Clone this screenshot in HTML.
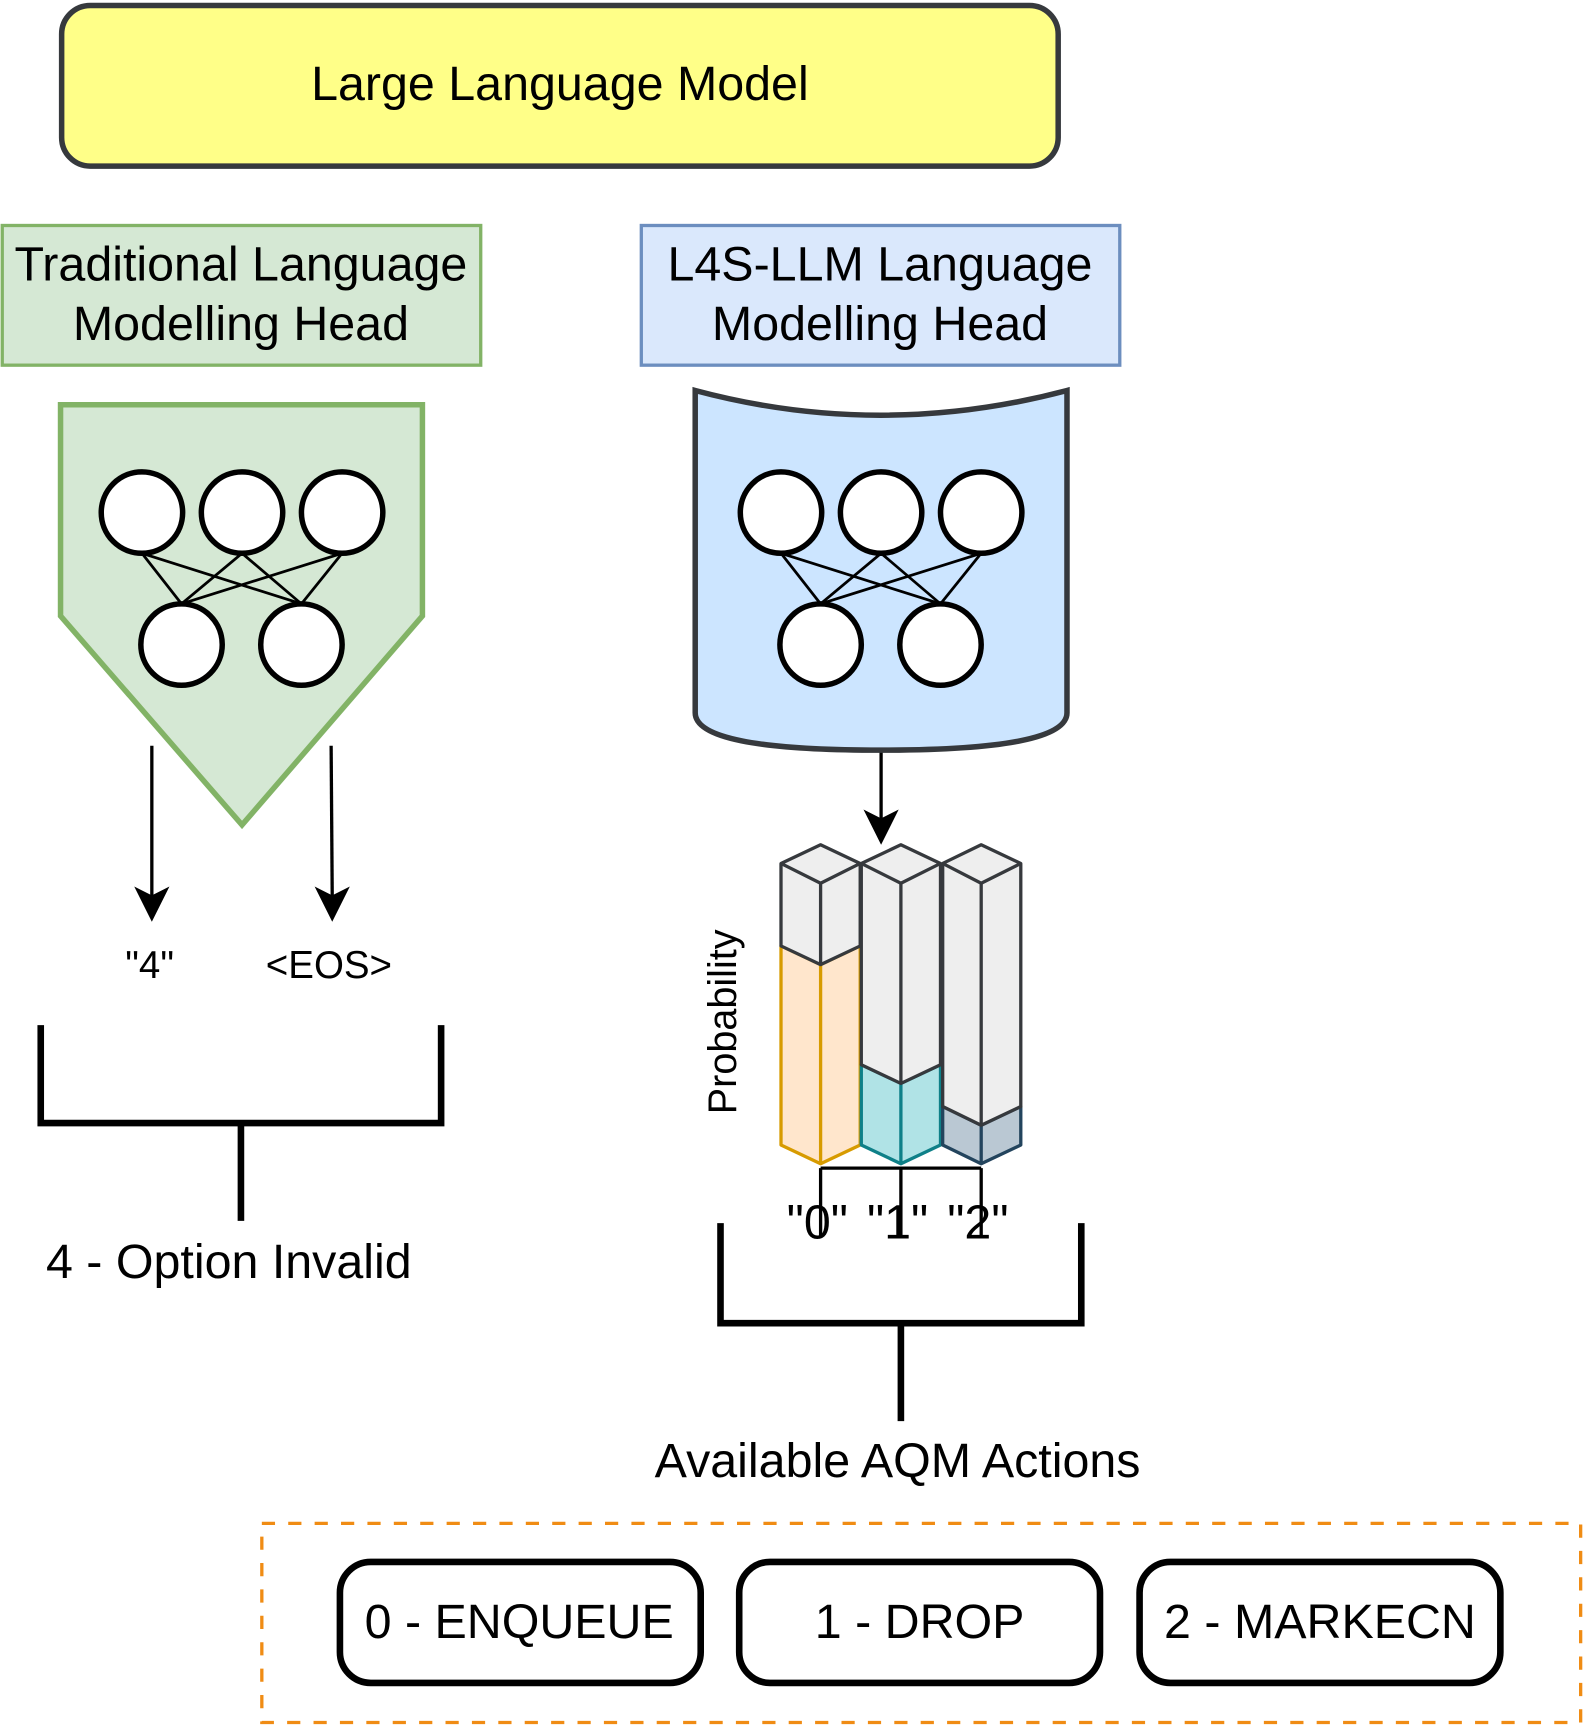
<!DOCTYPE html>
<html><head><style>html,body{margin:0;padding:0;background:#fff}svg{display:block}</style></head>
<body>
<svg width="1584" height="1728" viewBox="0 0 1440 1571" xmlns="http://www.w3.org/2000/svg" font-family="Liberation Sans, Arial, sans-serif">
<rect x="56" y="5" width="906" height="146" rx="26" fill="#ffff88" stroke="#36393d" stroke-width="5"/>
<text x="509" y="91" font-size="44" text-anchor="middle">Large Language Model</text>

<rect x="2" y="205" width="435" height="127" fill="#d5e8d4" stroke="#82b366" stroke-width="3"/>
<text x="219" y="255" font-size="44" text-anchor="middle">Traditional Language</text>
<text x="219" y="309" font-size="44" text-anchor="middle">Modelling Head</text>
<rect x="583" y="205" width="435" height="127" fill="#dae8fc" stroke="#6c8ebf" stroke-width="3"/>
<text x="800" y="255" font-size="44" text-anchor="middle">L4S-LLM Language</text>
<text x="800" y="309" font-size="44" text-anchor="middle">Modelling Head</text>

<polygon points="55,368 384,368 384,560 220,750 55,560" fill="#d5e8d4" stroke="#82b366" stroke-width="5"/>
<g stroke="#000" stroke-width="2.5">
<line x1="129" y1="503" x2="165" y2="549"/><line x1="129" y1="503" x2="274" y2="549"/>
<line x1="220" y1="503" x2="165" y2="549"/><line x1="220" y1="503" x2="274" y2="549"/>
<line x1="311" y1="503" x2="165" y2="549"/><line x1="311" y1="503" x2="274" y2="549"/>
</g>
<g fill="#fff" stroke="#000" stroke-width="5">
<circle cx="129" cy="466" r="37"/><circle cx="220" cy="466" r="37"/><circle cx="311" cy="466" r="37"/>
<circle cx="165" cy="586" r="37"/><circle cx="274" cy="586" r="37"/>
</g>
<g stroke="#000" stroke-width="3"><line x1="138" y1="678" x2="138" y2="815"/><line x1="301" y1="678" x2="302" y2="815"/><line x1="801" y1="683" x2="801" y2="745"/></g>
<polygon points="122,806 138,838 154,806 138,814" fill="#000"/>
<polygon points="286,806 302,838 318,806 302,814" fill="#000"/>
<polygon points="785,736 801,768 817,736 801,744" fill="#000"/>
<text x="136" y="889" font-size="35" text-anchor="middle">"4"</text>
<text x="299" y="889" font-size="35" text-anchor="middle">&lt;EOS&gt;</text>

<g fill="none" stroke="#000" stroke-width="6">
<polyline points="37,932 37,1021 401,1021 401,932"/><line x1="219" y1="1021" x2="219" y2="1110"/>
<polyline points="655,1112 655,1203 983,1203 983,1112"/><line x1="819" y1="1203" x2="819" y2="1292"/>
</g>
<text x="208" y="1162" font-size="44" text-anchor="middle">4 - Option Invalid</text>
<text x="816" y="1343" font-size="44" text-anchor="middle">Available AQM Actions</text>

<path d="M632,355 Q800,400 970,355 L970,648 Q970,682 800,682 Q632,682 632,648 Z" fill="#cce5ff" stroke="#36393d" stroke-width="5"/>
<g stroke="#000" stroke-width="2.5">
<line x1="710" y1="503" x2="746" y2="549"/><line x1="710" y1="503" x2="855" y2="549"/>
<line x1="801" y1="503" x2="746" y2="549"/><line x1="801" y1="503" x2="855" y2="549"/>
<line x1="892" y1="503" x2="746" y2="549"/><line x1="892" y1="503" x2="855" y2="549"/>
</g>
<g fill="#fff" stroke="#000" stroke-width="5">
<circle cx="710" cy="466" r="37"/><circle cx="801" cy="466" r="37"/><circle cx="892" cy="466" r="37"/>
<circle cx="746" cy="586" r="37"/><circle cx="855" cy="586" r="37"/>
</g>

<g stroke-width="3" stroke-linejoin="round">
<polygon points="710,860 746,877 782,860 782,1041 746,1058 710,1041" fill="#ffe6cc" stroke="#d79b00"/>
<line x1="746" y1="877" x2="746" y2="1058" stroke="#d79b00"/>
<polygon points="710,785 746,768 782,785 782,860 746,877 710,860" fill="#eeeeee" stroke="#36393d"/>
<polyline points="710,785 746,803 782,785" fill="none" stroke="#36393d"/><line x1="746" y1="803" x2="746" y2="877" stroke="#36393d"/>
<polygon points="783,968 819,985 855,968 855,1041 819,1058 783,1041" fill="#b0e3e6" stroke="#0e8088"/>
<line x1="819" y1="985" x2="819" y2="1058" stroke="#0e8088"/>
<polygon points="783,785 819,768 855,785 855,968 819,985 783,968" fill="#eeeeee" stroke="#36393d"/>
<polyline points="783,785 819,803 855,785" fill="none" stroke="#36393d"/><line x1="819" y1="803" x2="819" y2="985" stroke="#36393d"/>
<polygon points="857,1006 892,1023 928,1006 928,1041 892,1058 857,1041" fill="#bac8d3" stroke="#23445d"/>
<line x1="892" y1="1023" x2="892" y2="1058" stroke="#23445d"/>
<polygon points="857,785 892,768 928,785 928,1006 892,1023 857,1006" fill="#eeeeee" stroke="#36393d"/>
<polyline points="857,785 892,803 928,785" fill="none" stroke="#36393d"/><line x1="892" y1="803" x2="892" y2="1023" stroke="#36393d"/>
</g>
<g stroke="#000" stroke-width="3" fill="none"><line x1="746" y1="1062" x2="892" y2="1062"/><line x1="746" y1="1062" x2="746" y2="1125"/><line x1="819" y1="1062" x2="819" y2="1125"/><line x1="892" y1="1062" x2="892" y2="1125"/></g>
<text x="743" y="1126" font-size="44" text-anchor="middle">"0"</text>
<text x="816" y="1126" font-size="44" text-anchor="middle">"1"</text>
<text x="889" y="1126" font-size="44" text-anchor="middle">"2"</text>
<text transform="translate(669,929) rotate(-90)" font-size="36" text-anchor="middle">Probability</text>

<rect x="238" y="1385" width="1199" height="181" fill="none" stroke="#f08c14" stroke-width="3" stroke-dasharray="12,12"/>
<g fill="#fff" stroke="#000" stroke-width="6">
<rect x="309" y="1420" width="328" height="110" rx="28"/>
<rect x="672" y="1420" width="328" height="110" rx="28"/>
<rect x="1036" y="1420" width="328" height="110" rx="28"/>
</g>
<g font-size="44" text-anchor="middle">
<text x="472" y="1489">0 - ENQUEUE</text>
<text x="836" y="1489">1 - DROP</text>
<text x="1200" y="1489">2 - MARKECN</text>
</g>
</svg>
</body></html>
